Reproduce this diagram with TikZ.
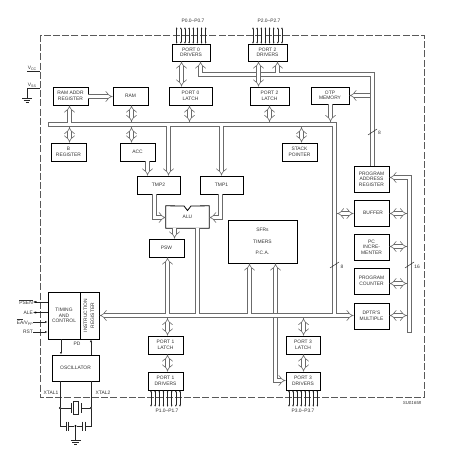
\documentclass[tikz,border=0pt]{standalone}
\usepackage{fontspec}
\setmainfont{Liberation Sans}
\usetikzlibrary{arrows.meta}
\definecolor{buscol}{gray}{0.42}
\tikzset{
  x=1pt,y=-1pt,
  blk/.style={draw=black,line width=0.8pt,fill=white,inner sep=0pt,align=center,font=\fontsize{4.9}{5.6}\selectfont,text=black!80},
  lbl/.style={inner sep=0pt,font=\fontsize{4.9}{5.6}\selectfont,text=black!80,align=center},
  bus/.style={draw=buscol,line width=0.6pt,double=white,double distance=3.2pt,line join=miter},
  busto/.style={bus,-{Implies[length=3.5pt,width=7pt]}},
  busboth/.style={bus,{Implies[length=3.5pt,width=7pt]}-{Implies[length=3.5pt,width=7pt]}},
  wire/.style={draw=black!85,line width=0.5pt},
  pin/.style={wire,{Latex[length=2.2pt,width=1.8pt]}-{Latex[length=2.2pt,width=1.8pt]}},
  sig/.style={wire,-{Latex[length=2.6pt,width=2.2pt]}},
  dot/.style={circle,fill=black,inner sep=0pt,minimum size=2.2pt},
  tick/.style={draw=black!85,line width=0.5pt},
}
\newcommand{\pinrow}[4]{% x0, step, y1, y2
  \foreach \i in {0,...,7}{\draw[pin] ({#1+\i*#2},#3) -- ({#1+\i*#2},#4);}}
\newcommand{\groundat}[2]{%
  \draw[wire] (#1-5,#2) -- (#1+5,#2) (#1-3.3,#2+2) -- (#1+3.3,#2+2) (#1-1.5,#2+4) -- (#1+1.5,#2+4);}
\begin{document}
\begin{tikzpicture}
\useasboundingbox (0,0) rectangle (450,457);
% outer dashed boundary
\draw[draw=black!65,line width=0.55pt,dash pattern=on 7pt off 2.2pt] (40,35) rectangle (424,397);
% blocks
\node[blk,minimum width=38pt,minimum height=17pt] (p0d) at (191,52.5) {PORT 0\\DRIVERS};
\node[blk,minimum width=43pt,minimum height=18pt] (p0l) at (190.5,96) {PORT 0\\LATCH};
\node[blk,minimum width=35pt,minimum height=18pt] (rar) at (70.5,96) {RAM ADDR\\REGISTER};
\node[blk,minimum width=35pt,minimum height=18pt] (ram) at (130.5,96) {RAM};
\node[blk,minimum width=39pt,minimum height=17pt] (p2d) at (267.5,52.5) {PORT 2\\DRIVERS};
\node[blk,minimum width=39pt,minimum height=18pt] (p2l) at (269.5,96) {PORT 2\\LATCH};
\node[blk,minimum width=38pt,minimum height=17pt] (otp) at (330,95.5) {OTP\\MEMORY};
\node[blk,minimum width=35pt,minimum height=18pt] (breg) at (68.5,152) {B\\REGISTER};
\node[blk,minimum width=35pt,minimum height=18pt] (acc) at (137.5,152) {ACC};
\node[blk,minimum width=35pt,minimum height=18pt] (sp) at (299.5,152) {STACK\\POINTER};
\node[blk,minimum width=43pt,minimum height=18pt] (tmp2) at (158.5,185) {TMP2};
\node[blk,minimum width=43pt,minimum height=18pt] (tmp1) at (221.5,185) {TMP1};
\node[blk,minimum width=35pt,minimum height=18pt] (psw) at (166.5,248) {PSW};
\node[blk,minimum width=69pt,minimum height=43pt] (sfr) at (262.5,241.5) {SFRs\\[5.6pt]TIMERS\\[5.6pt]P.C.A.};
\node[blk,minimum width=35pt,minimum height=26pt] (par) at (371.5,179) {PROGRAM\\ADDRESS\\REGISTER};
\node[blk,minimum width=35pt,minimum height=26pt] (buf) at (371.5,213) {\hspace*{3pt}BUFFER};
\node[blk,minimum width=35pt,minimum height=26pt] (pci) at (371.5,247) {PC\\INCRE-\\MENTER};
\node[blk,minimum width=35pt,minimum height=26pt] (pcn) at (371.5,281) {PROGRAM\\COUNTER};
\node[blk,minimum width=35pt,minimum height=26pt] (dptr) at (371.5,316) {DPTR'S\\MULTIPLE};
\node[blk,minimum width=32pt,minimum height=47pt] (tim) at (64,315.5) {TIMING\\AND\\CONTROL};
\node[blk,minimum width=19pt,minimum height=47pt] (ir) at (89.5,315.5) {\rotatebox{90}{\begin{tabular}{@{}c@{}}INSTRUCTION\\[1.2pt]REGISTER\end{tabular}}};
\node[blk,minimum width=47pt,minimum height=26pt] (osc) at (75.5,368) {OSCILLATOR};
\node[blk,minimum width=35pt,minimum height=18pt] (p1l) at (165.5,345) {PORT 1\\LATCH};
\node[blk,minimum width=35pt,minimum height=18pt] (p1d) at (165.5,381) {PORT 1\\DRIVERS};
\node[blk,minimum width=34pt,minimum height=18pt] (p3l) at (303,345) {PORT 3\\LATCH};
\node[blk,minimum width=34pt,minimum height=18pt] (p3d) at (303,381) {PORT 3\\DRIVERS};
% ALU with notch
\node[lbl,minimum width=43pt,minimum height=22pt] (alu) at (187.5,217) {ALU};
\draw[draw=black,line width=0.8pt] (alu.north west) -- (184,206) -- (187.5,210.5) -- (191,206) -- (alu.north east) -- (alu.south east) -- (alu.south west) -- cycle;
% reference coordinates of the two main buses
\coordinate (mtop) at (0,123);
\coordinate (mbot) at (0,126);
\coordinate (mtopo) at (0,122);
\coordinate (mboto) at (0,127);
\coordinate (ltop) at (0,314);
\coordinate (lbot) at (0,317);
\coordinate (ltopo) at (0,313);
\coordinate (lboto) at (0,318);
\coordinate (xt1) at (60,408);
\coordinate (xt2) at (91,408);
\coordinate (cap) at (75.5,426);
% vertical that crosses the low bus
\draw[busboth] (275.5,0 |- sfr.south) -- (275.5,380.5) -- (p3d.west |- 0,380.5);
% main bus and low bus
\draw[busboth] (99.6,315.5) -- (353.6,315.5);
\draw[bus] (48,124.5) -- (334.5,124.5) -- (334.5,314);
\draw[draw=buscol,line width=0.6pt] (48,122.6) -- (48,126.4);
% address bus
\draw[busto] (372.5,0 |- par.north) -- (372.5,74.5) -- (200.5,74.5) -- (200.5,0 |- p0d.south);
\draw[busto] (277.5,73) -- (277.5,0 |- p2d.south);
\draw[busto] (370,95.5) -- (otp.east |- 0,95.5);
% 16-bit bus
\draw[busto] (409.5,332) -- (409.5,177.5) -- (par.east |- 0,177.5);
\draw[draw=buscol,line width=0.6pt] (407.2,332) -- (411.8,332);
% stubs at the top
\draw[busboth] (181.5,0 |- p0d.south) -- (181.5,0 |- p0l.north);
\draw[busboth] (258.5,0 |- p2d.south) -- (258.5,0 |- p2l.north);
\draw[busto] (69.5,0 |- mtop) -- (69.5,0 |- rar.south);
\draw[busboth] (131.5,0 |- ram.south) -- (131.5,0 |- mtopo);
\draw[busboth] (189.5,0 |- p0l.south) -- (189.5,0 |- mtopo);
\draw[busboth] (269.5,0 |- p2l.south) -- (269.5,0 |- mtopo);
\draw[busto] (330.5,0 |- otp.south) -- (330.5,0 |- mtopo);
\draw[busto] (rar.east |- 0,96.5) -- (ram.west |- 0,96.5);
\draw[busboth] (69.5,0 |- mboto) -- (69.5,0 |- breg.north);
\draw[busboth] (131.5,0 |- mboto) -- (131.5,0 |- acc.north);
\draw[busboth] (301.5,0 |- mboto) -- (301.5,0 |- sp.north);
\draw[busto] (147.5,0 |- acc.south) -- (147.5,0 |- tmp2.north);
\draw[busto] (168.5,0 |- mbot) -- (168.5,0 |- tmp2.north);
\draw[busto] (221.5,0 |- mbot) -- (221.5,0 |- tmp1.north);
\draw[busto] (154.5,0 |- tmp2.south) -- (154.5,217.5) -- (alu.west |- 0,217.5);
\draw[busto] (220.5,0 |- tmp1.south) -- (220.5,217.5) -- (alu.east |- 0,217.5);
\draw[busto] (174.5,0 |- alu.south) -- (174.5,0 |- psw.north);
\draw[bus] (197.5,0 |- alu.south) -- (197.5,0 |- ltop);
\draw[busto] (167.5,0 |- ltop) -- (167.5,0 |- psw.south);
\draw[busto] (249.5,0 |- ltop) -- (249.5,0 |- sfr.south);
\draw[busboth] (167.5,0 |- lboto) -- (167.5,0 |- p1l.north);
\draw[busboth] (167.5,0 |- p1l.south) -- (167.5,0 |- p1d.north);
\draw[busboth] (303.5,0 |- lboto) -- (303.5,0 |- p3l.north);
\draw[busboth] (303.5,0 |- p3l.south) -- (303.5,0 |- p3d.north);
% right block stubs
\draw[busboth] (337,213.5) -- (buf.west |- 0,213.5);
\draw[busboth] (buf.east |- 0,213.5) -- (407,213.5);
\draw[busboth] (pci.east |- 0,246.5) -- (407,246.5);
\draw[busboth] (pcn.east |- 0,283.5) -- (407,283.5);
\draw[busboth] (dptr.east |- 0,315.5) -- (407,315.5);
% port pins
\pinrow{176.7}{4.14}{27}{44}
\pinrow{253}{4.14}{27}{44}
\pinrow{151}{4.14}{390}{407}
\pinrow{289}{4.05}{390}{407}
\node[lbl] (l0) at (193,21) {P0.0–P0.7};
\node[lbl] (l2) at (269,21) {P2.0–P2.7};
\node[lbl] (l1) at (167,411) {P1.0–P1.7};
\node[lbl] (l3) at (303,411) {P3.0–P3.7};
% bus width marks
\draw[tick] (368,135) -- (377,129);
\node[lbl] (w1) at (379.5,132.5) {8};
\draw[tick] (330,268) -- (339,262);
\node[lbl] (w2) at (342,267) {8};
\draw[tick] (405,268) -- (414,262);
\node[lbl] (w3) at (417,267) {16};
% supply
\node[lbl] (vcc) at (32,68) {V\raisebox{-0.7pt}{\fontsize{3.6}{4}\selectfont CC}};
\node[lbl] (vss) at (32,85) {V\raisebox{-0.7pt}{\fontsize{3.6}{4}\selectfont SS}};
\coordinate (vccend) at (40,71);
\coordinate (vssend) at (40,88);
\coordinate (gnd1) at (27,98);
\draw[wire] (27,71) -- (vccend);
\draw[wire] (vssend) -- (27,88) -- (gnd1);
\groundat{27}{98}
% control pins
\node[lbl,anchor=east] (psen) at (33,302) {$\overline{\mbox{PSEN}}$};
\node[lbl,anchor=east] (ale) at (33,312.5) {ALE};
\node[lbl,anchor=east] (ea) at (33,322) {$\overline{\mbox{EA}}$/V\raisebox{-0.7pt}{\fontsize{3.6}{4}\selectfont PP}};
\node[lbl,anchor=east] (rst) at (33,332) {RST};
\draw[sig] (tim.west |- 0,302) -- (psen.east);
\draw[sig] (tim.west |- 0,312.5) -- (ale.east);
\draw[sig] (ea.east) -- (tim.west |- ea.east);
\draw[sig] (rst.east) -- (tim.west |- rst.east);
\node[dot,minimum size=1.6pt] (dp) at (36,302) {};
\node[dot,minimum size=1.6pt] (da) at (36,312.5) {};
\node[lbl] (pd) at (77,344) {PD};
\draw[sig] (61,0 |- tim.south) -- (61,0 |- osc.north);
\draw[sig] (91,0 |- osc.north) -- (91,0 |- ir.south);
\node[lbl] (xl1) at (51,393) {XTAL1};
\node[lbl] (xl2) at (103,393) {XTAL2};
% crystal network
\node[dot] (dx1) at (xt1) {};
\node[dot] (dx2) at (xt2) {};
\node[dot] (dc) at (cap) {};
\draw[wire] (60,0 |- osc.south) -- (dx1) -- (60,426) -- (66,426);
\draw[wire] (91,0 |- osc.south) -- (dx2) -- (91,426) -- (85,426);
\draw[wire] (dx1) -- (71,408) (81,408) -- (dx2);
\draw[wire,line width=0.7pt] (71,403) -- (71,413) (81,403) -- (81,413);
\draw[wire,line width=0.7pt] (73.3,401.5) rectangle (78.7,414.5);
\draw[wire,line width=0.7pt] (66,421.5) -- (66,430.5) (68.8,421.5) -- (68.8,430.5) (82.2,421.5) -- (82.2,430.5) (85,421.5) -- (85,430.5);
\draw[wire] (68.8,426) -- (dc) -- (82.2,426);
\draw[wire] (dc) -- (75.5,440);
\groundat{75.5}{440}
\node[lbl,font=\fontsize{4.4}{5}\selectfont\itshape] (code) at (412,403) {SU01658};
\end{tikzpicture}
\end{document}
